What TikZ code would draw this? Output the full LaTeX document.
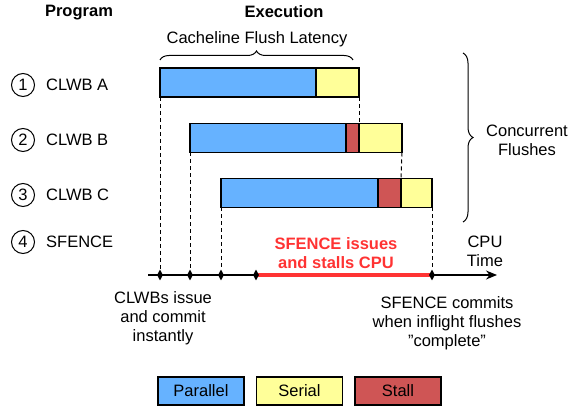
\documentclass[tikz,border=0pt]{standalone}
\usepackage{fontspec}
\setmainfont[Ligatures=ResetAll]{Liberation Sans}
\usepackage{xcolor}
\usetikzlibrary{positioning, shapes.geometric, decorations.pathreplacing, arrows.meta}

\definecolor{parblue}{RGB}{102,178,255}
\definecolor{seryellow}{RGB}{255,255,153}
\definecolor{stallred}{RGB}{207,85,85}
\definecolor{cpured}{RGB}{255,51,51}

\begin{document}
\begin{tikzpicture}[x=1pt, y=-1pt,
    every node/.style={font=\fontsize{16.5}{19}\selectfont},
    seg/.style={draw, line width=1.2pt, inner sep=0pt, outer sep=0pt, minimum height=29pt, anchor=west},
    num/.style={draw, circle, line width=1pt, minimum size=23pt, inner sep=0pt, outer sep=0pt},
    instr/.style={inner sep=0pt, anchor=west},
    dia/.style={diamond, fill=black, inner sep=0pt, minimum width=6pt, minimum height=11pt},
    flush/.style={dashed, line width=1pt, dash pattern=on 4pt off 3pt},
    legend/.style={draw, line width=1.2pt, minimum width=86pt, minimum height=28pt, inner sep=0pt},
    curly/.style={decorate, line width=1pt}]
    \useasboundingbox (0,0) rectangle (574,406);

    % Headings
    \node[font=\fontsize{16.5}{19}\selectfont\bfseries] (hprog) at (79,13) {Program};
    \node[font=\fontsize{16.5}{19}\selectfont\bfseries] (hexec) at (284,12) {Execution};

    % Program
    \node[num] (n1) at (23,85) {1};
    \node[num] (n2) at (23,140) {2};
    \node[num] (n3) at (23,195) {3};
    \node[num] (n4) at (23,242) {4};
    \node[instr, right=11.5pt of n1] (p1) {CLWB A};
    \node[instr, right=11.5pt of n2] (p2) {CLWB B};
    \node[instr, right=11.5pt of n3] (p3) {CLWB C};
    \node[instr, right=11.5pt of n4] (p4) {SFENCE};

    % Flush bars
    \node[seg, fill=parblue, minimum width=156pt] (aP) at (160,82.5) {};
    \node[seg, fill=seryellow, minimum width=43pt] (aS) at (aP.east) {};
    \node[seg, fill=parblue, minimum width=156pt] (bP) at (190,138) {};
    \node[seg, fill=stallred, minimum width=13pt] (bX) at (bP.east) {};
    \node[seg, fill=seryellow, minimum width=43pt] (bS) at (bX.east) {};
    \node[seg, fill=parblue, minimum width=157pt] (cP) at (221,193) {};
    \node[seg, fill=stallred, minimum width=23pt] (cX) at (cP.east) {};
    \node[seg, fill=seryellow, minimum width=31pt] (cS) at (cX.east) {};

    % Braces
    \draw[curly, decoration={brace, amplitude=9pt}] (160,60) -- (353,60);
    \node (lat) at (257,39) {Cacheline Flush Latency};
    \draw[curly, decoration={brace, amplitude=10pt}] (463,53) -- (463,222);
    \node[align=center] (conc) at (527,140) {Concurrent\\Flushes};

    % CPU time axis
    \coordinate (t0) at (148,275);
    \coordinate (t1) at (497,275);
    \coordinate (c1) at (160,275);
    \coordinate (c2) at (190,275);
    \coordinate (c3) at (221,275);
    \coordinate (c4) at (256,275);
    \coordinate (c5) at (432,275);
    \draw[line width=1.2pt, -{Stealth[length=11pt, width=9pt]}] (t0) -- (t1);
    \draw[cpured, line width=4pt] (c4) -- (c5);
    \node[dia] (d1) at (c1) {};
    \node[dia] (d2) at (c2) {};
    \node[dia] (d3) at (c3) {};
    \node[dia] (d4) at (c4) {};
    \node[dia] (d5) at (c5) {};
    \node[align=center] (cpu) at (485,251) {CPU\\Time};
    \node[align=center, text=cpured, font=\fontsize{16.5}{19}\selectfont\bfseries] (stall) at (336,253) {SFENCE issues\\and stalls CPU};

    % Issue and commit lines
    \draw[flush] (aP.south west) -- (d1);
    \draw[flush] (bP.south west) -- (d2);
    \draw[flush] (cP.south west) -- (d3);
    \draw[flush] (aS.south east) -- (bS.north west);
    \draw[flush] (bS.south east) -- (cS.north west);
    \draw[flush] (cS.south east) -- (d5);

    % Notes
    \node[align=center] (issue) at (163,318) {CLWBs issue\\and commit\\instantly};
    \node[align=center] (commit) at (447,323) {SFENCE commits\\when inflight flushes\\"complete"};

    % Legend
    \node[legend, fill=parblue] (lp) at (201,391) {Parallel};
    \node[legend, fill=seryellow] (ls) at (299.5,391) {Serial};
    \node[legend, fill=stallred] (lx) at (398,391) {Stall};
\end{tikzpicture}
\end{document}
